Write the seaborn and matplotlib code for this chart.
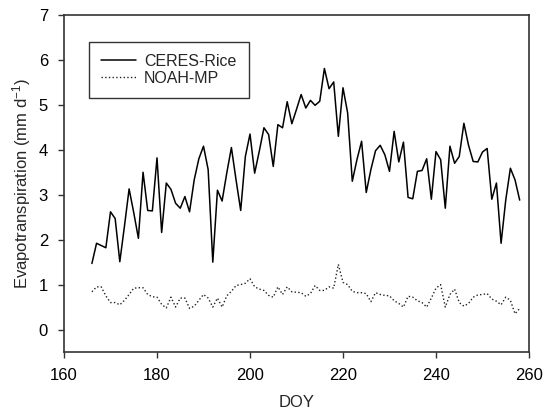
import numpy as np
import pandas as pd
import matplotlib
matplotlib.use("Agg")
import matplotlib.pyplot as plt
import seaborn as sns

# Day of year
doy = list(range(166, 259))

# Daily evapotranspiration (mm/d)
ceres_rice = [
    1.47, 1.92, 1.87, 1.82, 2.62, 2.47, 1.51, 2.30, 3.13, 2.60,
    2.03, 3.50, 2.65, 2.64, 3.82, 2.16, 3.26, 3.12, 2.81, 2.70,
    2.96, 2.62, 3.33, 3.80, 4.08, 3.56, 1.50, 3.10, 2.86, 3.48,
    4.05, 3.33, 2.65, 3.85, 4.35, 3.48, 3.97, 4.49, 4.34, 3.63,
    4.56, 4.49, 5.07, 4.58, 4.90, 5.23, 4.93, 5.10, 4.99, 5.08,
    5.81, 5.36, 5.51, 4.30, 5.38, 4.82, 3.30, 3.78, 4.19, 3.05,
    3.56, 3.98, 4.10, 3.89, 3.52, 4.41, 3.73, 4.17, 2.94, 2.91,
    3.52, 3.54, 3.80, 2.90, 3.96, 3.78, 2.70, 4.08, 3.70, 3.85,
    4.59, 4.10, 3.74, 3.73, 3.95, 4.03, 2.90, 3.26, 1.92, 2.88,
    3.59, 3.33, 2.88,
]

noah_mp = [
    0.84, 0.95, 0.95, 0.75, 0.60, 0.60, 0.55, 0.65, 0.78, 0.92,
    0.93, 0.93, 0.78, 0.73, 0.72, 0.56, 0.48, 0.72, 0.50, 0.70,
    0.70, 0.47, 0.52, 0.65, 0.78, 0.70, 0.50, 0.70, 0.50, 0.75,
    0.85, 0.98, 1.00, 1.03, 1.13, 0.95, 0.90, 0.87, 0.76, 0.72,
    0.95, 0.78, 0.95, 0.84, 0.83, 0.82, 0.74, 0.80, 0.98, 0.87,
    0.87, 0.95, 0.92, 1.45, 1.05, 1.00, 0.85, 0.82, 0.82, 0.80,
    0.62, 0.82, 0.78, 0.76, 0.75, 0.64, 0.58, 0.50, 0.74, 0.72,
    0.64, 0.60, 0.50, 0.70, 0.92, 1.00, 0.50, 0.78, 0.90, 0.60,
    0.52, 0.58, 0.72, 0.77, 0.78, 0.80, 0.68, 0.63, 0.55, 0.72,
    0.65, 0.35, 0.47,
]

x_ticks = [160, 180, 200, 220, 240, 260]
y_ticks = [0, 1, 2, 3, 4, 5, 6, 7]

sns.set_style("ticks")
plt.rcParams['font.family'] = ['Liberation Sans', 'DejaVu Sans']
plt.rcParams['mathtext.default'] = 'regular'

df = pd.DataFrame({'DOY': doy, 'CERES-Rice': ceres_rice, 'NOAH-MP': noah_mp})

fig = plt.figure(figsize=(5.48, 4.13), dpi=100)
ax = fig.add_axes([0.1168, 0.1477, 0.8485, 0.816])

sns.lineplot(data=df, x='DOY', y='CERES-Rice', ax=ax, color='black',
             linewidth=1.1, label='CERES-Rice')
sns.lineplot(data=df, x='DOY', y='NOAH-MP', ax=ax, color='#222222',
             linewidth=1.0, linestyle=':', label='NOAH-MP')

ax.set_xlim(160, 260)
ax.set_ylim(-0.5, 7)
ax.set_xticks(x_ticks)
ax.set_yticks(y_ticks)
ax.tick_params(direction='out', length=4.5, width=1, labelsize=12, pad=7,
               colors='#333333', labelcolor='black')
ax.set_xlabel('DOY', fontsize=12, labelpad=9)
ax.set_ylabel('Evapotranspiration (mm d$^{-1}$)', fontsize=12, labelpad=4)

for side in ['top', 'right', 'bottom', 'left']:
    ax.spines[side].set_visible(True)
    ax.spines[side].set_color('#333333')
    ax.spines[side].set_linewidth(1.2)

leg = ax.legend(loc='upper left', bbox_to_anchor=(0.054, 0.92), fontsize=11.5,
                frameon=True, fancybox=False, handlelength=2.2,
                borderpad=0.75, labelspacing=0.1, handletextpad=0.5,
                borderaxespad=0)
leg.get_frame().set_edgecolor('black')
leg.get_frame().set_linewidth(1.0)

fig.savefig('out.png', dpi=100)
